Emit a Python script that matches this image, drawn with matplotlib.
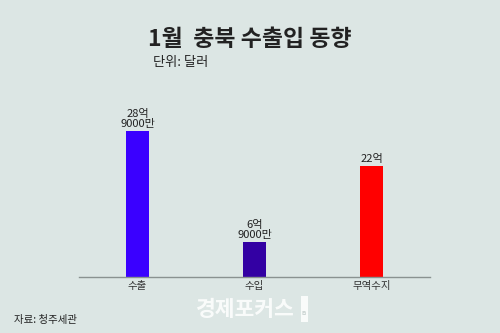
import matplotlib
matplotlib.use("Agg")
import matplotlib.pyplot as plt
from matplotlib.patches import Rectangle

plt.rcParams['font.family'] = ['Noto Sans CJK KR', 'DejaVu Sans']

categories = ['수출', '수입', '무역수지']
values = [28.9, 6.9, 22.0]
labels = ['28억\n9000만', '6억\n9000만', '22억']
colors = ['#3a00ff', '#3300a3', '#ff0000']

bg = '#dce6e4'
fig = plt.figure(figsize=(5, 3.33), dpi=100, facecolor=bg)
ax = fig.add_axes([0.158, 0.168, 0.702, 0.502])
ax.set_facecolor(bg)

x = list(range(len(categories)))
ax.bar(x, values, width=0.2, color=colors)
for xi, v, lab in zip(x, values, labels):
    ax.text(xi, v + 0.4, lab, ha='center', va='bottom', fontsize=8,
            linespacing=1.0, color='#222222')

ax.set_xlim(-0.5, 2.5)
ax.set_ylim(0, 33)
ax.set_xticks(x)
ax.set_xticklabels(categories, fontsize=7.5, color='#333333')
ax.tick_params(axis='x', length=0, pad=3)
ax.set_yticks([])
for s in ['top', 'right', 'left']:
    ax.spines[s].set_visible(False)
ax.spines['bottom'].set_color('#8a9290')
ax.spines['bottom'].set_linewidth(1.0)

fig.text(0.5, 0.88, '1월  충북 수출입 동향', ha='center', va='center',
         fontsize=16.5, fontweight='bold', color='#222222')
fig.text(0.306, 0.813, '단위: 달러', ha='left', va='center',
         fontsize=9.5, color='#222222')
fig.text(0.028, 0.04, '자료: 청주세관', ha='left', va='center',
         fontsize=7.5, color='#222222')
fig.text(0.49, 0.07, '경제포커스', ha='center', va='center',
         fontsize=15.5, fontweight='bold', color='white', alpha=0.85)
fig.patches.append(Rectangle((0.602, 0.034), 0.014, 0.078, transform=fig.transFigure,
                             facecolor='white', edgecolor='none', alpha=0.85))
fig.text(0.609, 0.06, 'Ei', ha='center', va='center', fontsize=4,
         color='#c8d2d0', fontweight='bold')

fig.savefig('out.png', dpi=100, facecolor=bg)
